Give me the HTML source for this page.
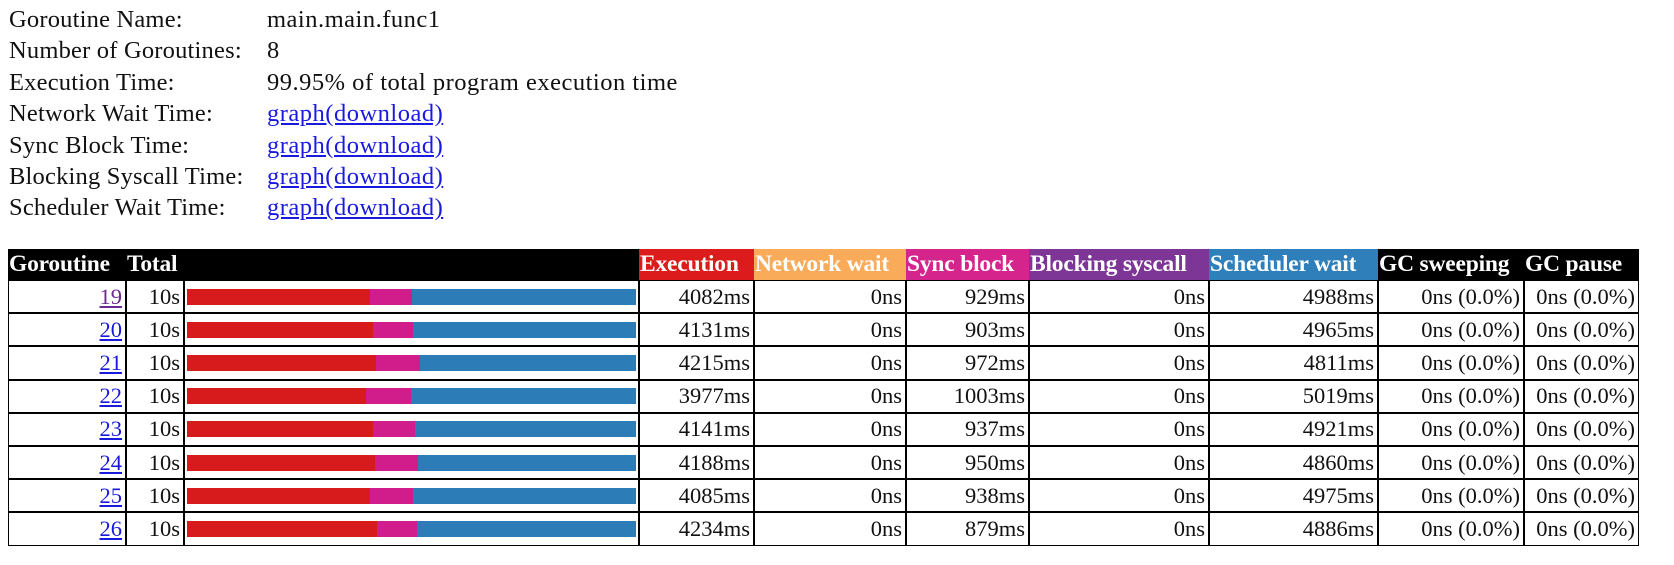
<!DOCTYPE html>
<html><head><meta charset="utf-8"><style>
body{margin:0;background:#fff;font-family:"Liberation Serif",serif;font-size:22px;color:#111;width:1674px;height:565px;overflow:hidden}
.info{position:absolute;left:9px;top:4px;line-height:31.4px;font-size:24.5px;letter-spacing:0.5px}
.info div{display:flex}
.info .k{width:258px;letter-spacing:0.2px}
a{color:#1a1adf;text-decoration:underline}
table{position:absolute;left:8px;top:249px;border-collapse:separate;border-spacing:0;table-layout:fixed;width:1631px}
th{background:#000;color:#fff;font-weight:bold;height:31px;padding:0 1px;text-align:left;white-space:nowrap;overflow:hidden;font-size:23.5px;letter-spacing:-0.2px}
td{border:1px solid #000;height:31.2px;padding:0 3px;text-align:right;white-space:nowrap;overflow:hidden;font-size:22.5px}
td.bar{padding:0 2px}
.b{display:flex;height:16px}
</style></head><body>
<div class="info">
<div><span class="k">Goroutine Name:</span><span>main.main.func1</span></div>
<div><span class="k">Number of Goroutines:</span><span>8</span></div>
<div><span class="k">Execution Time:</span><span>99.95% of total program execution time</span></div>
<div><span class="k">Network Wait Time:</span><a href="#">graph(download)</a></div>
<div><span class="k">Sync Block Time:</span><a href="#">graph(download)</a></div>
<div><span class="k">Blocking Syscall Time:</span><a href="#">graph(download)</a></div>
<div><span class="k">Scheduler Wait Time:</span><a href="#">graph(download)</a></div>
</div>
<table id="t">
<colgroup><col style="width:118px"><col style="width:58px"><col style="width:455px"><col style="width:115px"><col style="width:152px"><col style="width:123px"><col style="width:180px"><col style="width:169px"><col style="width:146px"><col style="width:115px"></colgroup>
<thead><tr>
<th>Goroutine</th>
<th colspan="2">Total</th>
<th style="background:#dc1c1c">Execution</th>
<th style="background:#f9ab5a">Network wait</th>
<th style="background:#d5248c">Sync block</th>
<th style="background:#7d3596">Blocking syscall</th>
<th style="background:#2f7fba">Scheduler wait</th>
<th>GC sweeping</th>
<th>GC pause</th>
</tr></thead><tbody id="tb"></tbody></table>
<script>
const ids=[19,20,21,22,23,24,25,26];
const execMs=[4082,4131,4215,3977,4141,4188,4085,4234];
const syncMs=[929,903,972,1003,937,950,938,879];
const schedMs=[4988,4965,4811,5019,4921,4860,4975,4886];
const tb=document.getElementById('tb');
ids.forEach((id,i)=>{
  const tot=execMs[i]+syncMs[i]+schedMs[i];
  const tr=document.createElement('tr');
  
  
  tr.innerHTML=`<td><a href="#" style="color:${i==0?'#6a2c91':'#1a1adf'}">${id}</a></td><td>10s</td>
<td class="bar"><div class="b"><div style="background:#d71a1c;width:${execMs[i]/tot*100}%"></div><div style="background:#d11c8c;width:${syncMs[i]/tot*100}%"></div><div style="background:#2c7cb8;width:${schedMs[i]/tot*100}%"></div></div></td>
<td>${execMs[i]}ms</td><td>0ns</td><td>${syncMs[i]}ms</td><td>0ns</td><td>${schedMs[i]}ms</td><td>0ns (0.0%)</td><td>0ns (0.0%)</td>`;
  tb.appendChild(tr);
  const a=tr.querySelector('a');
  
  
  const b=tr.querySelector('.b');
  
  
});
</script>
</body></html>
